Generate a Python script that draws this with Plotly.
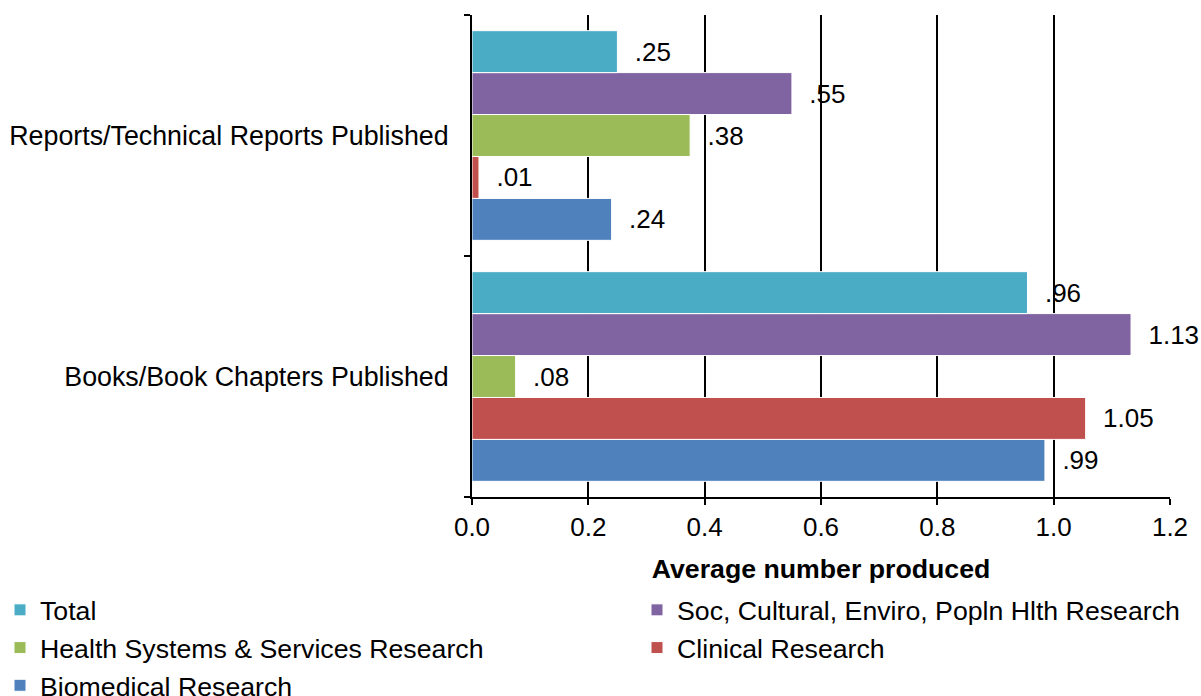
import plotly.graph_objects as go

categories = ["Books/Book Chapters Published", "Reports/Technical Reports Published"]

series_names = [
    "Total",
    "Soc, Cultural, Enviro, Popln Hlth Research",
    "Health Systems & Services Research",
    "Clinical Research",
    "Biomedical Research",
]
series_colors = ["#4BACC6", "#8064A2", "#9BBB59", "#C0504D", "#4F81BD"]
series_legend = ["legend", "legend2", "legend", "legend2", "legend"]

# values per series: [Books, Reports]
total = [0.955, 0.25]
soc = [1.133, 0.55]
health = [0.075, 0.375]
clinical = [1.055, 0.012]
biomedical = [0.985, 0.24]

label_total = [".96", ".25"]
label_soc = ["1.13", ".55"]
label_health = [".08", ".38"]
label_clinical = ["1.05", ".01"]
label_biomedical = [".99", ".24"]

series_values = [total, soc, health, clinical, biomedical]
series_labels = [label_total, label_soc, label_health, label_clinical, label_biomedical]

x_ticks = [0.0, 0.2, 0.4, 0.6, 0.8, 1.0, 1.2]

FONT = "Liberation Sans, Arial, sans-serif"
FS = 26
FS_L = 26.7
W, H = 1201, 696

fig = go.Figure()
# add in reverse so that "Total" is at the top of each group
for name, color, vals, labs, lg in reversed(list(zip(series_names, series_colors, series_values,
                                                      series_labels, series_legend))):
    fig.add_trace(go.Bar(
        y=categories, x=vals, name=name, orientation="h",
        marker=dict(color=color, line=dict(color="white", width=1)),
        text=["\u00a0\u00a0" + t for t in labs], textposition="outside",
        textfont=dict(family=FONT, size=FS, color="black"),
        cliponaxis=False, legend=lg,
    ))

legend_common = dict(
    orientation="v", traceorder="reversed",
    xref="container", yref="container",
    xanchor="left", yanchor="top",
    font=dict(family=FONT, size=FS_L, color="black"),
    itemwidth=30, bgcolor="rgba(0,0,0,0)",
)

fig.update_layout(
    width=W, height=H,
    barmode="group", bargap=0.13, bargroupgap=0,
    plot_bgcolor="white", paper_bgcolor="white",
    font=dict(family=FONT, size=FS, color="black"),
    margin=dict(l=472, r=31, t=15, b=199, autoexpand=False),
    legend=dict(x=0.0, y=1 - 586 / H, **legend_common),
    legend2=dict(x=637 / W, y=1 - 586 / H, **legend_common),
)

fig.update_xaxes(
    range=[0, 1.2], tickvals=x_ticks, tickformat=".1f", tickangle=0,
    showgrid=True, gridcolor="black", gridwidth=1.5,
    showline=True, linecolor="black", linewidth=2,
    ticks="outside", ticklen=6, tickcolor="black", tickwidth=1.5,
    zeroline=False,
    title=dict(text="<b>Average number produced</b>", font=dict(family=FONT, size=FS_L), standoff=18),
    tickfont=dict(family=FONT, size=FS),
)
fig.update_yaxes(
    showgrid=False, showline=True, linecolor="black", linewidth=2,
    ticks="outside", ticklen=6, tickcolor="black", tickwidth=1.5,
    tickson="boundaries", ticklabelstandoff=16,
    tickfont=dict(family=FONT, size=26.8),
)

fig.write_html("out.html", config={"displayModeBar": False},
               post_script="document.body.style.margin='0';document.body.style.overflow='hidden';")
